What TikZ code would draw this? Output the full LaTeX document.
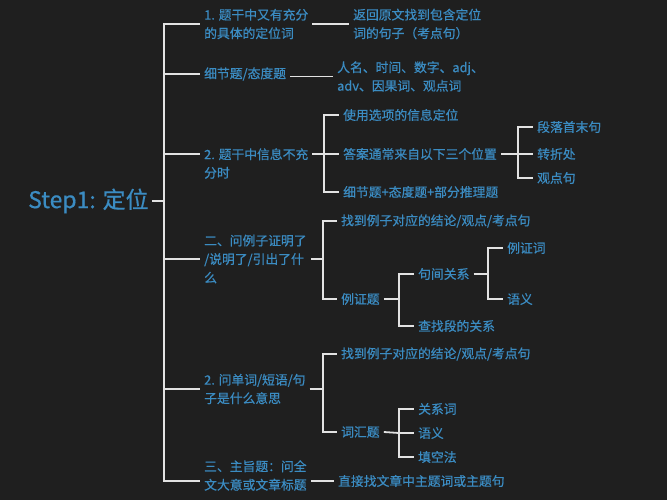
\documentclass[tikz,border=0pt]{standalone}
\usepackage{fontspec}
\setmainfont{Noto Sans CJK SC}[FakeBold=0.6]
\definecolor{bg}{HTML}{1F1F1F}
\definecolor{tblue}{HTML}{3B8CC2}
\definecolor{lcol}{HTML}{E2E2E2}
\tikzset{
  t/.style={anchor=west, text=tblue, font=\fontsize{12.8}{18.5}\selectfont, align=left, inner xsep=4pt, inner ysep=1pt},
  rootnode/.style={anchor=west, text=tblue, font=\fontsize{23}{27}\selectfont, inner xsep=3pt},
  ln/.style={draw=lcol, line width=1.8pt},
}
\begin{document}
\begin{tikzpicture}[x=1pt,y=-1pt]
\fill[bg] (0,0) rectangle (667,500);
\useasboundingbox (0,0) rectangle (667,500);
% root
\node[rootnode] (root) at (25,201) {Step1: 定位};
\coordinate (b0) at (164,201);
% level 1
\node[t] (n1) at (200,24) {1. 题干中又有充分\\的具体的定位词};
\node[t] (n2) at (200,74) {细节题/态度题};
\node[t] (n3) at (200,163.5) {2. 题干中信息不充\\分时};
\node[t] (n4) at (200,259) {二、问例子证明了\\/说明了/引出了什\\么};
\node[t] (n5) at (200,389) {2. 问单词/短语/句\\子是什么意思};
\node[t] (n6) at (200,475.5) {三、主旨题：问全\\文大意或文章标题};
% level 2
\node[t] (m1) at (349,24) {返回原文找到包含定位\\词的句子（考点句）};
\node[t] (m2) at (333,76.5) {人名、时间、数字、adj、\\adv、因果词、观点词};
\node[t] (m3a) at (339,115) {使用选项的信息定位};
\node[t] (m3b) at (339,154) {答案通常来自以下三个位置};
\node[t] (m3c) at (339,192) {细节题+态度题+部分推理题};
\node[t] (k1) at (533,127) {段落首末句};
\node[t] (k2) at (533,154) {转折处};
\node[t] (k3) at (533,178) {观点句};
\node[t] (m4a) at (337,221) {找到例子对应的结论/观点/考点句};
\node[t] (m4b) at (337,299) {例证题};
\node[t] (p1) at (414,274) {句间关系};
\node[t] (p2) at (414,326) {查找段的关系};
\node[t] (q1) at (503,248) {例证词};
\node[t] (q2) at (503,299) {语义};
\node[t] (m5a) at (337,354) {找到例子对应的结论/观点/考点句};
\node[t] (m5b) at (337,432) {词汇题};
\node[t] (r1) at (414,409) {关系词};
\node[t] (r2) at (414,433) {语义};
\node[t] (r3) at (414,457) {填空法};
\node[t] (m6) at (334,481) {直接找文章中主题词或主题句};
% brackets
\coordinate (b3) at (324,154);
\coordinate (b3b) at (518,154);
\coordinate (b4) at (323,259);
\coordinate (b4b) at (399,299);
\coordinate (b4c) at (488,274);
\coordinate (b5) at (323,389);
\coordinate (b5b) at (399,433);
% connectors
\draw[ln] (root.east) -- (b0);
\draw[ln] (b0) |- (n1.west);
\draw[ln] (b0) |- (n2.west);
\draw[ln] (b0) |- ([yshift=9.5pt]n3.west);
\draw[ln] (b0) |- (n4.west);
\draw[ln] (b0) |- (n5.west);
\draw[ln] (b0) |- ([yshift=-5.5pt]n6.west);
\draw[ln] (n1.east) -- (m1.west);
\draw[ln] (n2.east |- m2.west) -- (m2.west);
\draw[ln] ([yshift=9.5pt]n3.east) -- (b3);
\draw[ln] (b3) |- (m3a.west);
\draw[ln] (b3) |- (m3b.west);
\draw[ln] (b3) |- (m3c.west);
\draw[ln] (m3b.east) -- (b3b);
\draw[ln] (b3b) |- (k1.west);
\draw[ln] (b3b) |- (k2.west);
\draw[ln] (b3b) |- (k3.west);
\draw[ln] (n4.east) -- (b4);
\draw[ln] (b4) |- (m4a.west);
\draw[ln] (b4) |- (m4b.west);
\draw[ln] (m4b.east) -- (b4b);
\draw[ln] (b4b) |- (p1.west);
\draw[ln] (b4b) |- (p2.west);
\draw[ln] (p1.east) -- (b4c);
\draw[ln] (b4c) |- (q1.west);
\draw[ln] (b4c) |- (q2.west);
\draw[ln] (n5.east) -- (b5);
\draw[ln] (b5) |- (m5a.west);
\draw[ln] (b5) |- (m5b.west);
\draw[ln] (m5b.east) -- (b5b);
\draw[ln] (b5b) |- (r1.west);
\draw[ln] (b5b) |- (r2.west);
\draw[ln] (b5b) |- (r3.west);
\draw[ln] ([yshift=-5.5pt]n6.east) -- ([yshift=-5.5pt]n6.east -| m6.west);
\end{tikzpicture}
\end{document}
